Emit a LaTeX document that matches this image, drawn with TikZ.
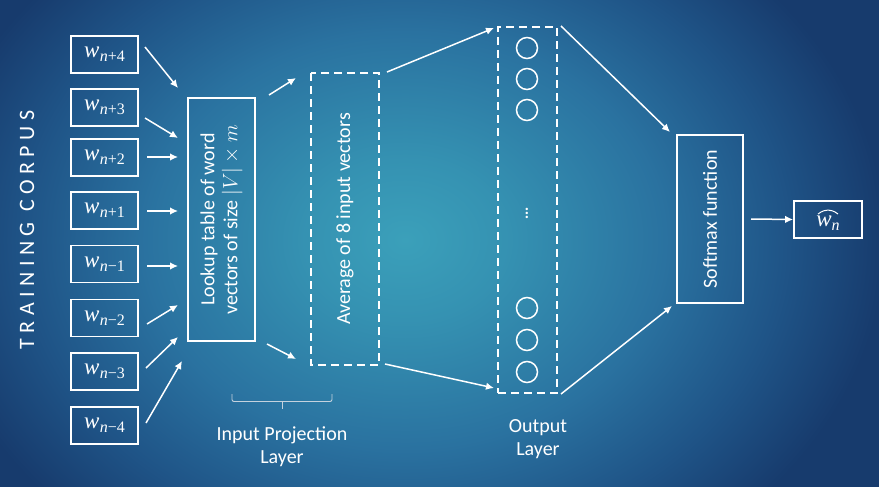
\documentclass[tikz,border=0pt]{standalone}
\usepackage{fontspec}
\setmainfont{Carlito}
\newfontfamily\spacedfont[LetterSpace=25]{Carlito}
\newfontfamily\mfont{Liberation Serif}
\usetikzlibrary{arrows.meta}
\definecolor{bgA}{HTML}{3BA0BA}
\definecolor{bgB}{HTML}{3592B2}
\definecolor{bgC}{HTML}{2A72A0}
\definecolor{bgD}{HTML}{1F5487}
\definecolor{bgE}{HTML}{173B6D}
\definecolor{bracecol}{HTML}{C4D2DE}
\pgfdeclareradialshading{bgshade}{\pgfpoint{0bp}{0bp}}{color(0bp)=(bgA); color(5bp)=(bgB); color(13bp)=(bgC); color(19bp)=(bgD); color(24bp)=(bgE); color(50bp)=(bgE)}
\newcommand\wsub[2]{{\mfont\fontsize{23}{24}\selectfont\itshape w}\kern0.5pt\raisebox{-4pt}{\mfont\fontsize{16}{16}\selectfont\itshape #1\upshape #2}}
\tikzset{
  txt/.style={text=white, font=\fontsize{20}{23}\selectfont},
  wordbox/.style={draw=white, line width=1.8pt, minimum width=67pt, minimum height=37pt, inner sep=0pt, txt},
  solidbox/.style={draw=white, line width=1.8pt, inner sep=0pt, txt, align=center},
  dashbox/.style={draw=white, line width=1.8pt, dash pattern=on 8pt off 5pt, inner sep=0pt, txt, align=center},
  neuron/.style={circle, draw=white, line width=1.5pt, minimum size=21pt, inner sep=0pt},
  arr/.style={draw=white, line width=1.5pt, -{Latex[length=8pt,width=7.5pt]}},
  label/.style={txt, align=center}
}
\begin{document}
\begin{tikzpicture}[x=1pt,y=-1pt]
\useasboundingbox (0,0) rectangle (879,487);
\fill[bgE] (0,0) rectangle (879,487);
\begin{scope}
\clip (0,0) rectangle (879,487);
\shade[shading=bgshade] (-95,-160) rectangle (905,640);
\end{scope}

% training corpus
\node[text=white, rotate=90, font=\fontsize{22}{24}\spacedfont] (corpus) at (27,230) {TRAINING CORPUS};

% word boxes
\node[wordbox] (w1) at (104.5,54.5) {\wsub{n}{+4}};
\node[wordbox] (w2) at (104.5,107.5) {\wsub{n}{+3}};
\node[wordbox] (w3) at (104.5,157.5) {\wsub{n}{+2}};
\node[wordbox] (w4) at (104.5,210.5) {\wsub{n}{+1}};
\node[wordbox] (w5) at (104.5,264) {\wsub{n}{−1}};
\node[wordbox] (w6) at (104.5,318) {\wsub{n}{−2}};
\node[wordbox] (w7) at (104.5,371.5) {\wsub{n}{−3}};
\node[wordbox] (w8) at (104.5,425.5) {\wsub{n}{−4}};

% lookup table
\node[solidbox, rotate=90, minimum width=243pt, minimum height=67pt] (lookup) at (221.5,219.5) {Lookup table of word\\vectors of size $|V|\times m$};

% average
\node[dashbox, rotate=90, minimum width=292pt, minimum height=68pt] (avg) at (345,219) {Average of 8 input vectors};

% output layer
\node[dashbox, minimum width=59pt, minimum height=366pt] (out) at (527.5,210) {};
\node[neuron] (o1) at (527,48) {};
\node[neuron] (o2) at (527,79) {};
\node[neuron] (o3) at (527,110) {};
\node[text=white, font=\fontsize{20}{20}\selectfont, inner sep=0pt] (odots) at (527,210) {$\vdots$};
\node[neuron] (o4) at (527,308) {};
\node[neuron] (o5) at (527,340) {};
\node[neuron] (o6) at (527,372) {};

% softmax
\node[solidbox, rotate=90, minimum width=168pt, minimum height=66pt] (soft) at (710,219) {Softmax function};

% result
\node[wordbox, minimum width=68pt] (res) at (828,219.5) {};
\node[txt, inner sep=0pt] (restext) at ([yshift=-3.5pt]res.center) {{\mfont\fontsize{23}{24}\selectfont\itshape w}\raisebox{-4pt}{\mfont\fontsize{16}{16}\selectfont\itshape n}};
\draw[white, line width=1pt] ([xshift=-10pt,yshift=1.5pt]restext.north) .. controls +(4pt,3pt) and +(-3pt,0pt) .. ([xshift=0pt,yshift=5.5pt]restext.north) .. controls +(3pt,0pt) and +(-4pt,3pt) .. ([xshift=10pt,yshift=1.5pt]restext.north);

% labels
\node[label] (iplabel) at (282,447) {Input Projection\\Layer};
\node[label] (outlabel) at (538,439) {Output\\Layer};

% brace
\coordinate (bl) at (232,394);
\coordinate (br) at (332,394);
\coordinate (bm) at (282,409);
\draw[bracecol, line width=0.9pt, rounded corners=2pt] (bl) |- (282,401.5) -| (br);
\draw[bracecol, line width=0.9pt] (282,401.5) -- (bm);

% arrow coordinates
\coordinate (a1s) at (145,47);   \coordinate (a1e) at (178,88);
\coordinate (a2s) at (145,118);  \coordinate (a2e) at (178,138);
\coordinate (a3s) at (147,157);  \coordinate (a3e) at (178,157);
\coordinate (a4s) at (147,211);  \coordinate (a4e) at (178,211);
\coordinate (a5s) at (147,266);  \coordinate (a5e) at (178,266);
\coordinate (a6s) at (147,324);  \coordinate (a6e) at (178,305);
\coordinate (a7s) at (146,368);  \coordinate (a7e) at (178,337);
\coordinate (a8s) at (146,423);  \coordinate (a8e) at (182,361);
\draw[arr] (a1s) -- (a1e);
\draw[arr] (a2s) -- (a2e);
\draw[arr] (a3s) -- (a3e);
\draw[arr] (a4s) -- (a4e);
\draw[arr] (a5s) -- (a5e);
\draw[arr] (a6s) -- (a6e);
\draw[arr] (a7s) -- (a7e);
\draw[arr] (a8s) -- (a8e);

\coordinate (b1s) at (269,95);  \coordinate (b1e) at (296,78);
\coordinate (b2s) at (267,344); \coordinate (b2e) at (296,359);
\draw[arr] (b1s) -- (b1e);
\draw[arr] (b2s) -- (b2e);

\coordinate (c1s) at (387,72);  \coordinate (c1e) at (494,28);
\coordinate (c2s) at (385,364); \coordinate (c2e) at (494,388);
\draw[arr] (c1s) -- (c1e);
\draw[arr] (c2s) -- (c2e);

\coordinate (d1s) at (561,26);  \coordinate (d1e) at (670,132);
\coordinate (d2s) at (561,394); \coordinate (d2e) at (672,306);
\draw[arr] (d1s) -- (d1e);
\draw[arr] (d2s) -- (d2e);

\coordinate (e1s) at (751,219);
\draw[arr] (e1s) -- (res.west);
\end{tikzpicture}
\end{document}
